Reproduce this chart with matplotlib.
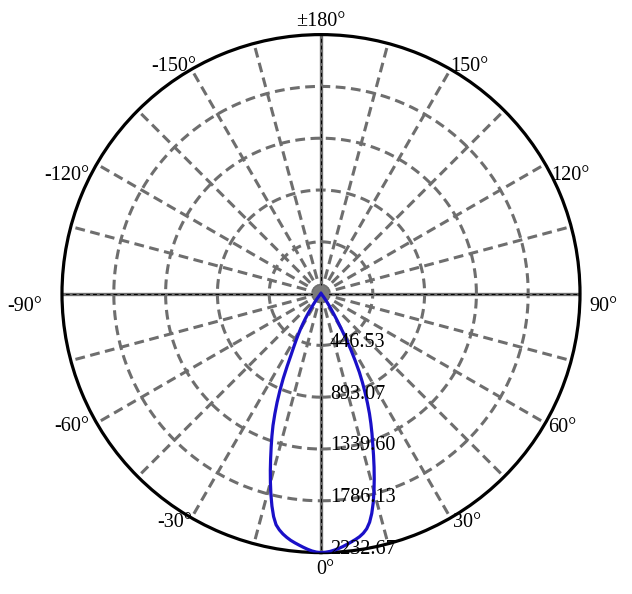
import numpy as np
import matplotlib
matplotlib.use("Agg")
import matplotlib.pyplot as plt

# ---- data ----
angles_half = [0, 1, 2, 3, 4, 5, 6, 7, 8, 9, 10, 11, 12, 13, 14, 15, 16, 17, 18, 19, 20,
               21, 22, 23, 24, 25, 26, 27, 28, 29, 30, 31, 32, 33, 34, 35, 36, 37, 38, 39, 40,
               42, 45, 60, 90]
right_vals = [2232.67, 2230, 2224, 2214, 2202, 2188, 2172, 2156, 2140, 2122, 2098, 2065, 2015,
              1945, 1860, 1765, 1665, 1565, 1465, 1370, 1285, 1200, 1115, 1025, 935, 845, 755,
              650, 550, 450, 345, 270, 210, 165, 125, 95, 70, 50, 35, 22, 12, 5, 0, 0, 0]
left_vals = [2232.67, 2229, 2220, 2207, 2192, 2176, 2160, 2143, 2122, 2098, 2068, 2030, 1965,
             1880, 1785, 1685, 1585, 1485, 1390, 1300, 1210, 1110, 1010, 905, 800, 690, 590,
             520, 460, 405, 355, 305, 255, 205, 160, 120, 90, 65, 45, 30, 18, 6, 0, 0, 0]
ring_values = [446.53, 893.07, 1339.60, 1786.13, 2232.67]
ring_labels = ["446.53", "893.07", "1339.60", "1786.13", "2232.67"]
angle_ticks = [0, 30, 60, 90, 120, 150, 180, -150, -120, -90, -60, -30]
angle_labels = ["0°", "30°", "60°", "90°", "120°", "150°", "±180°", "-150°", "-120°", "-90°", "-60°", "-30°"]
# label centre offsets (pixels) from the outer circle point
label_offsets = [(4, -16.5), (17, -5), (17, -4), (23, -13), (25, -11), (19, 3), (0, 13),
                 (-18, 3), (-30, -11), (-37, -13), (-25, -3), (-17, -5)]

plt.rcParams['font.family'] = ['Liberation Serif', 'DejaVu Serif']
FS = 14.5
GRAY = '#6e6e6e'

fig = plt.figure(figsize=(6.32, 5.94), dpi=100)
ax = fig.add_axes([62/632, 41.4/594, 518/632, 518/594], projection='polar')
ax.set_theta_zero_location('S')
ax.set_theta_direction(1)
rmax = ring_values[-1]
ax.set_ylim(0, rmax)
ax.set_xticks([])
ax.set_yticks([])
ax.grid(False)
ax.spines['polar'].set_color('black')
ax.spines['polar'].set_linewidth(2.3)

dash = (0, (3.2, 1.8))
# rings
th_full = np.linspace(0, 2*np.pi, 721)
for rv in ring_values[:-1]:
    ax.plot(th_full, np.full_like(th_full, rv), color=GRAY, lw=2.2, linestyle=dash, zorder=1)
# spokes every 15 degrees
for a in range(0, 360, 15):
    t = np.deg2rad(a)
    if a % 90 == 0:
        ax.plot([t, t], [0, rmax], color=GRAY, lw=2.4, solid_capstyle='butt', zorder=1)
        ax.plot([t, t], [0, rmax], color='black', lw=0.7, linestyle=(0, (4, 3)), zorder=1.1)
    else:
        ax.plot([t, t], [0, rmax], color=GRAY, lw=2.2, linestyle=dash, zorder=1)

# centre dot
ax.scatter([0], [0], s=140, color='#7a7a7a', zorder=2, edgecolors='none')

# curve
ang = np.array(angles_half, dtype=float)
theta = np.concatenate([-ang[::-1], ang[1:]])
r = np.concatenate([np.array(left_vals)[::-1], np.array(right_vals)[1:]])
ax.plot(np.deg2rad(theta), r, color='#1a10c8', lw=2.3, zorder=3, solid_joinstyle='round')

# radial labels
for rv, lab in zip(ring_values, ring_labels):
    ax.annotate(lab, xy=(0, rv), xytext=(9, 3), textcoords='offset pixels',
                ha='left', va='center', fontsize=FS, color='black', zorder=4,
                annotation_clip=False)

# angle labels
for a, lab, (dx, dy) in zip(angle_ticks, angle_labels, label_offsets):
    ax.annotate(lab, xy=(np.deg2rad(a), rmax), xytext=(dx, dy), textcoords='offset pixels',
                ha='center', va='center', fontsize=FS, color='black', annotation_clip=False)

fig.savefig('out.png', dpi=100)
